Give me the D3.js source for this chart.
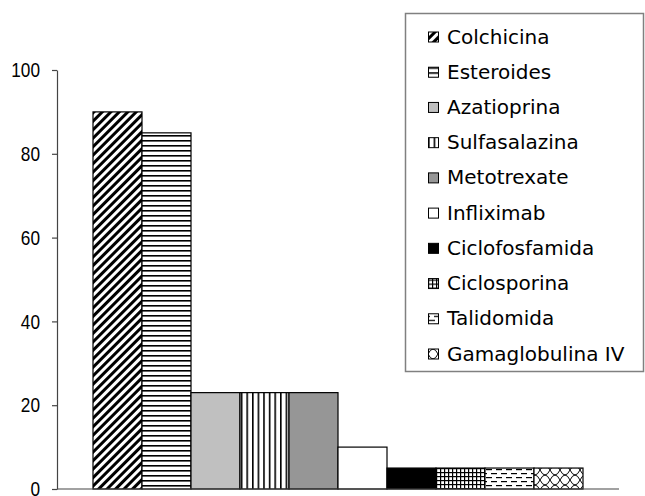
<!DOCTYPE html>
<html>
<head>
<meta charset="utf-8">
<script src="https://cdn.jsdelivr.net/npm/d3@7"></script>
<style>
  body { margin: 0; background: #fff; }
  svg { display: block; }
</style>
</head>
<body>
<div id="chart"></div>
<script>
// data
const drugs = ["Colchicina", "Esteroides", "Azatioprina", "Sulfasalazina", "Metotrexate",
  "Infliximab", "Ciclofosfamida", "Ciclosporina", "Talidomida", "Gamaglobulina IV"];
const percents = [90, 85, 23, 23, 23, 10, 5, 5, 5, 5];
const yTicks = [0, 20, 40, 60, 80, 100];

// fill for each drug: a pattern id or a plain colour
const fills = ["url(#diag)", "url(#hlines)", "#c0c0c0", "url(#vlines)", "#969696",
  "#ffffff", "#000000", "url(#grid)", "url(#dash)", "url(#weave)"];

const width = 645;
const height = 496;
const margin = { left: 57, right: 26, top: 70, bottom: 7 };

var svg = d3.select("#chart").append("svg")
  .attr("width", width)
  .attr("height", height);

// patterns
var defs = svg.append("defs");

var p = defs.append("pattern").attr("id", "diag").attr("patternUnits", "userSpaceOnUse")
  .attr("width", 6).attr("height", 6).attr("patternTransform", "rotate(45)");
p.append("rect").attr("width", 6).attr("height", 6).attr("fill", "#fff");
p.append("rect").attr("x", 0).attr("width", 3).attr("height", 6).attr("fill", "#000");

p = defs.append("pattern").attr("id", "hlines").attr("patternUnits", "userSpaceOnUse")
  .attr("width", 6).attr("height", 5);
p.append("rect").attr("width", 6).attr("height", 5).attr("fill", "#fff");
p.append("rect").attr("y", 0).attr("width", 6).attr("height", 1.6).attr("fill", "#000");

p = defs.append("pattern").attr("id", "vlines").attr("patternUnits", "userSpaceOnUse")
  .attr("width", 5.6).attr("height", 6);
p.append("rect").attr("width", 5.6).attr("height", 6).attr("fill", "#fff");
p.append("rect").attr("x", 0).attr("width", 1.6).attr("height", 6).attr("fill", "#000");

p = defs.append("pattern").attr("id", "grid").attr("patternUnits", "userSpaceOnUse")
  .attr("width", 4).attr("height", 4);
p.append("rect").attr("width", 4).attr("height", 4).attr("fill", "#fff");
p.append("rect").attr("width", 1.2).attr("height", 4).attr("fill", "#000");
p.append("rect").attr("width", 4).attr("height", 1.2).attr("fill", "#000");

p = defs.append("pattern").attr("id", "dash").attr("patternUnits", "userSpaceOnUse")
  .attr("width", 10).attr("height", 8);
p.append("rect").attr("width", 10).attr("height", 8).attr("fill", "#fff");
p.append("rect").attr("x", 1).attr("y", 1).attr("width", 6).attr("height", 1.2).attr("fill", "#000");
p.append("rect").attr("x", 6).attr("y", 5).attr("width", 6).attr("height", 1.2).attr("fill", "#000");
p.append("rect").attr("x", -4).attr("y", 5).attr("width", 6).attr("height", 1.2).attr("fill", "#000");

p = defs.append("pattern").attr("id", "weave").attr("patternUnits", "userSpaceOnUse")
  .attr("width", 10).attr("height", 10);
p.append("rect").attr("width", 10).attr("height", 10).attr("fill", "#fff");
p.append("path").attr("d", "M0,0 Q2.5,5 5,5 T10,10 M10,0 Q7.5,5 5,5 T0,10")
  .attr("fill", "none").attr("stroke", "#000").attr("stroke-width", 1);

// scales
var x = d3.scaleBand()
  .domain(drugs)
  .range([margin.left + 36, width - margin.right - 36]);

var y = d3.scaleLinear()
  .domain([0, 100])
  .range([height - margin.bottom, margin.top]);

// bars
svg.append("g")
  .selectAll("rect")
  .data(drugs)
  .enter()
  .append("rect")
  .attr("x", function (d) { return x(d); })
  .attr("y", function (d, i) { return y(percents[i]); })
  .attr("width", x.bandwidth())
  .attr("height", function (d, i) { return y(0) - y(percents[i]); })
  .attr("fill", function (d, i) { return fills[i]; })
  .attr("stroke", "#000")
  .attr("stroke-width", 1.2);

// y axis
var yAxis = svg.append("g")
  .attr("transform", "translate(" + margin.left + ",0)")
  .call(d3.axisLeft(y).tickValues(yTicks).tickSize(5).tickPadding(12).tickSizeOuter(0));
yAxis.select(".domain").attr("stroke", "#444").attr("stroke-width", 1.2);
yAxis.selectAll(".tick line").attr("stroke", "#444").attr("stroke-width", 1.2);
yAxis.selectAll(".tick text")
  .attr("fill", "#000")
  .style("font-family", "'Liberation Sans', Arial, sans-serif")
  .style("font-size", "21px")
  .attr("textLength", function () { return this.getComputedTextLength() * 0.82; })
  .attr("lengthAdjust", "spacingAndGlyphs");

// x axis line
svg.append("line")
  .attr("x1", margin.left)
  .attr("x2", width - margin.right)
  .attr("y1", y(0))
  .attr("y2", y(0))
  .attr("stroke", "#444")
  .attr("stroke-width", 1.2);

// legend
var legend = svg.append("g");
legend.append("rect")
  .attr("x", 405.5)
  .attr("y", 13.5)
  .attr("width", 238)
  .attr("height", 358)
  .attr("fill", "#fff")
  .attr("stroke", "#808080")
  .attr("stroke-width", 1.5);

var ly = d3.scalePoint()
  .domain(drugs)
  .range([37, 354]);

var items = legend.selectAll(".item")
  .data(drugs)
  .enter()
  .append("g")
  .attr("class", "item")
  .attr("transform", function (d) { return "translate(428," + ly(d) + ")"; });

items.append("rect")
  .attr("x", 0.5)
  .attr("y", -5)
  .attr("width", 10)
  .attr("height", 10)
  .attr("fill", function (d, i) { return fills[i]; })
  .attr("stroke", "#000")
  .attr("stroke-width", 1);

items.append("text")
  .attr("x", 19)
  .attr("y", 6.5)
  .text(function (d) { return d; })
  .style("font-family", "'DejaVu Sans', sans-serif")
  .style("font-size", "20px")
  .attr("fill", "#000");
</script>
</body>
</html>
